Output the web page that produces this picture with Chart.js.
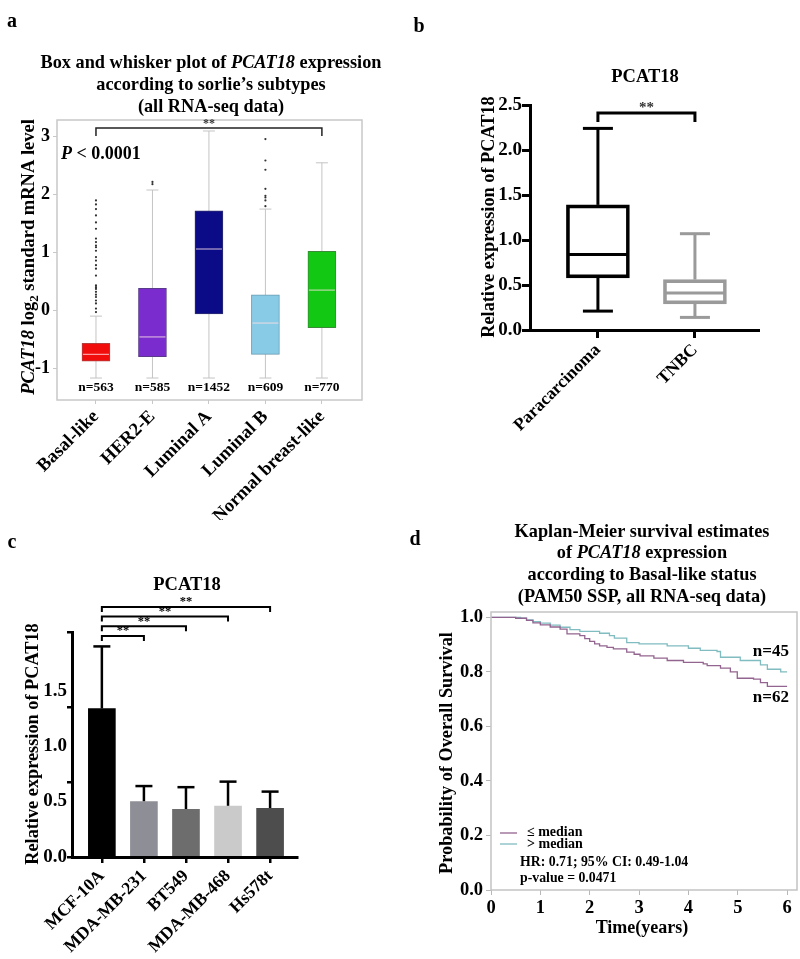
<!DOCTYPE html>
<html>
<head>
<meta charset="utf-8">
<script src="https://cdn.jsdelivr.net/npm/chart.js@4.4.1/dist/chart.umd.min.js"></script>
<style>
  html, body { margin: 0; padding: 0; background: #fff; }
  #fig { position: relative; width: 800px; height: 959px; }
  #fig canvas { position: absolute; }
</style>
</head>
<body>
<div id="fig">
  <canvas id="ca" width="400" height="520" style="left:0;top:0"></canvas>
  <canvas id="cb" width="400" height="520" style="left:400px;top:0"></canvas>
  <canvas id="cc" width="400" height="439" style="left:0;top:520px"></canvas>
  <canvas id="cd" width="400" height="439" style="left:400px;top:520px"></canvas>
</div>
<script>
// ---- panel a: sorlie subtypes (box and whisker) ----
const subtypes = ['Basal-like', 'HER2-E', 'Luminal A', 'Luminal B', 'Normal breast-like'];
const subtypeN = [563, 585, 1452, 609, 770];
const subtypeLow = [-1.17, -1.17, -1.17, -1.17, -1.17];
const subtypeQ1 = [-0.88, -0.80, -0.06, -0.76, -0.30];
const subtypeMed = [-0.76, -0.46, 1.06, -0.22, 0.35];
const subtypeQ3 = [-0.57, 0.38, 1.72, 0.27, 1.02];
const subtypeHigh = [-0.10, 2.08, 3.10, 1.75, 2.55];
const subtypeOutliers = [
  [1.90, 1.83, 1.75, 1.64, 1.52, 1.41, 1.24, 1.18, 1.12, 1.09, 1.03, 0.92, 0.86, 0.78, 0.72,
   0.60, 0.43, 0.40, 0.37, 0.32, 0.27, 0.23, 0.17, 0.12, 0.03, -0.03],
  [2.22, 2.18],
  [],
  [2.96, 2.59, 2.43, 2.10, 1.98, 1.95, 1.90, 1.80],
  []
];
const subtypeColors = ['#f20d0d', '#7a2ccf', '#0b0b88', '#88cbe6', '#12c812'];
const subtypeEdges = ['#b04040', '#5a3a8a', '#303070', '#6a9ab0', '#3a8a3a'];

// ---- panel b: paracarcinoma vs TNBC ----
const groupsB = ['Paracarcinoma', 'TNBC'];
const groupMin = [0.21, 0.14];
const groupQ1 = [0.58, 0.29];
const groupMed = [0.84, 0.41];
const groupQ3 = [1.39, 0.56];
const groupMax = [2.24, 1.07];
const groupColors = ['#000000', '#9a9a9a'];

// ---- panel c: cell lines ----
const cellLines = ['MCF-10A', 'MDA-MB-231', 'BT549', 'MDA-MB-468', 'Hs578t'];
const cellMean = [1.34, 0.50, 0.43, 0.46, 0.44];
const cellSD = [0.56, 0.14, 0.20, 0.22, 0.15];
const cellColors = ['#000000', '#8e8e96', '#6d6d6d', '#cacaca', '#4d4d4d'];
const cTickLabels = [0, 0.5, 1.0, 1.5];
const cTickMarks = [0, 0.675, 1.35, 2.03];

// ---- panel d: Kaplan-Meier ----
const kmLowTime = [0, 0.5, 0.72, 0.85, 1.0, 1.2, 1.4, 1.54, 1.8, 1.9, 2.0, 2.1, 2.2, 2.35, 2.48, 2.75, 2.9, 3.02,
  3.3, 3.57, 3.9, 4.3, 4.38, 4.65, 4.85, 4.99, 5.32, 5.46, 5.6, 6.0];
const kmLowSurv = [1, 0.997, 0.989, 0.98, 0.973, 0.965, 0.957, 0.94, 0.933, 0.922, 0.912, 0.903, 0.896, 0.89, 0.885,
  0.873, 0.865, 0.859, 0.851, 0.842, 0.835, 0.83, 0.823, 0.814, 0.80, 0.777, 0.774, 0.761, 0.747, 0.747];
const kmHighTime = [0, 0.6, 0.72, 0.85, 1.0, 1.2, 1.4, 1.6, 1.8, 2.2, 2.4, 2.5, 2.75, 3.0, 3.57, 4.0, 4.24, 4.58,
  4.65, 5.05, 5.46, 5.6, 5.87, 6.0];
const kmHighSurv = [1, 0.997, 0.991, 0.985, 0.979, 0.972, 0.964, 0.955, 0.949, 0.942, 0.933, 0.924, 0.908, 0.903,
  0.896, 0.887, 0.879, 0.875, 0.854, 0.842, 0.826, 0.81, 0.80, 0.80];

const SERIF = '"Liberation Serif", "Times New Roman", serif';
Chart.defaults.font.family = SERIF;
Chart.defaults.font.weight = 'bold';
Chart.defaults.color = '#000';

const common = {
  responsive: false,
  animation: false,
  events: [],
  plugins: { legend: { display: false }, tooltip: { enabled: false } }
};

// fix the chart area to a known rectangle inside the canvas
function pinned(W, H, area) {
  return {
    padding: { left: 0, top: area.top, right: W - area.right, bottom: 0 },
    yFit: s => { s.width = area.left; },
    xFit: s => { s.height = H - area.bottom; }
  };
}
function fixedTicks(values) {
  return s => { s.ticks = values.map(v => ({ value: v })); };
}

function font(size, italic) {
  return (italic ? 'italic ' : '') + 'bold ' + size + 'px ' + SERIF;
}
// parts: [[text, flags]] flags: 'i' italic, 's' subscript
function rich(ctx, parts, x, y, size, align) {
  const widths = parts.map(([t, f = '']) => {
    ctx.font = font(f.includes('s') ? size * 0.7 : size, f.includes('i'));
    return ctx.measureText(t).width;
  });
  const total = widths.reduce((a, b) => a + b, 0);
  let cx = align === 'center' ? x - total / 2 : align === 'right' ? x - total : x;
  ctx.textAlign = 'left';
  ctx.textBaseline = 'middle';
  parts.forEach(([t, f = ''], i) => {
    const sub = f.includes('s');
    ctx.font = font(sub ? size * 0.7 : size, f.includes('i'));
    ctx.fillText(t, cx, y + (sub ? size * 0.3 : 0));
    cx += widths[i];
  });
}
function txt(ctx, s, x, y, size, align = 'center', color = '#000') {
  ctx.fillStyle = color;
  rich(ctx, [[s]], x, y, size, align);
}
function vtxt(ctx, parts, x, y, size) {
  ctx.save();
  ctx.translate(x, y);
  ctx.rotate(-Math.PI / 2);
  ctx.fillStyle = '#000';
  rich(ctx, parts, 0, 0, size, 'center');
  ctx.restore();
}
function line(ctx, x1, y1, x2, y2) {
  ctx.beginPath(); ctx.moveTo(x1, y1); ctx.lineTo(x2, y2); ctx.stroke();
}
function bracket(ctx, x1, x2, y, drop) {
  ctx.beginPath();
  ctx.moveTo(x1, y + drop); ctx.lineTo(x1, y); ctx.lineTo(x2, y); ctx.lineTo(x2, y + drop);
  ctx.stroke();
}

// ================= panel a =================
const panelA = {
  id: 'panelA',
  beforeDatasetsDraw(chart) {
    const { ctx, scales: { x, y } } = chart;
    ctx.save();
    ctx.strokeStyle = '#c4c4c4';
    ctx.lineWidth = 1;
    subtypes.forEach((_, i) => {
      const px = x.getPixelForValue(i);
      const lo = y.getPixelForValue(subtypeLow[i]);
      const hi = y.getPixelForValue(subtypeHigh[i]);
      line(ctx, px, lo, px, hi);
      line(ctx, px - 6, lo, px + 6, lo);
      line(ctx, px - 6, hi, px + 6, hi);
    });
    ctx.restore();
  },
  afterDatasetsDraw(chart) {
    const { ctx, scales: { x, y } } = chart;
    ctx.save();
    ctx.strokeStyle = 'rgba(255,225,230,0.85)';
    ctx.lineWidth = 1;
    subtypes.forEach((_, i) => {
      const px = x.getPixelForValue(i);
      const py = y.getPixelForValue(subtypeMed[i]);
      line(ctx, px - 13, py, px + 13, py);
    });
    ctx.restore();
  },
  afterDraw(chart) {
    const { ctx, chartArea: a, scales: { x } } = chart;
    ctx.save();
    ctx.strokeStyle = '#c8c8c8';
    ctx.lineWidth = 1.5;
    ctx.strokeRect(a.left, a.top, a.right - a.left, a.bottom - a.top);

    ctx.strokeStyle = '#222';
    ctx.lineWidth = 1.5;
    bracket(ctx, x.getPixelForValue(0), x.getPixelForValue(4), a.top + 8, 8);
    txt(ctx, '**', x.getPixelForValue(2), a.top + 4, 12, 'center', '#333');

    subtypeN.forEach((n, i) => txt(ctx, 'n=' + n, x.getPixelForValue(i), a.bottom - 12, 13.5));

    ctx.fillStyle = '#000';
    rich(ctx, [['P', 'i'], [' < 0.0001']], a.left + 4, a.top + 34, 18, 'left');

    rich(ctx, [['Box and whisker plot of '], ['PCAT18', 'i'], [' expression']], 211, 63, 18.3, 'center');
    rich(ctx, [['according to sorlie\u2019s subtypes']], 211, 85, 18.3, 'center');
    rich(ctx, [['(all RNA-seq data)']], 211, 107, 18.3, 'center');

    vtxt(ctx, [['PCAT18', 'i'], [' log'], ['2', 's'], [' standard mRNA level']], 29, 257, 18.5);
    txt(ctx, 'a', 12, 22, 20);
    ctx.restore();
  }
};

const pa = pinned(400, 520, { left: 57, top: 120, right: 362, bottom: 400 });
new Chart(document.getElementById('ca'), {
  type: 'bar',
  data: {
    datasets: [
      {
        data: subtypes.map((_, i) => ({ x: i, y: [subtypeQ1[i], subtypeQ3[i]] })),
        backgroundColor: subtypeColors,
        borderColor: subtypeEdges,
        borderWidth: 1,
        borderSkipped: false,
        barThickness: 28
      },
      {
        type: 'scatter',
        data: subtypeOutliers.flatMap((arr, i) => arr.map(v => ({ x: i, y: v }))),
        pointRadius: 1.1,
        pointBackgroundColor: '#333',
        pointBorderWidth: 0
      }
    ]
  },
  options: {
    ...common,
    layout: { padding: pa.padding },
    scales: {
      x: {
        type: 'linear', min: -0.69, max: 4.71, offset: false,
        afterFit: pa.xFit, afterBuildTicks: fixedTicks([0, 1, 2, 3, 4]),
        grid: { offset: false, drawOnChartArea: false, tickLength: 4, color: '#c8c8c8' },
        border: { display: false },
        ticks: { callback: v => subtypes[v], autoSkip: false, minRotation: 45, maxRotation: 45, padding: 2, font: { size: 18.5 } }
      },
      y: {
        min: -1.55, max: 3.29,
        afterFit: pa.yFit, afterBuildTicks: fixedTicks([-1, 0, 1, 2, 3]),
        grid: { drawOnChartArea: false, tickLength: 4, color: '#c8c8c8' },
        border: { display: false },
        ticks: { padding: 3, font: { size: 18 } }
      }
    }
  },
  plugins: [panelA]
});

// ================= panel b =================
const panelB = {
  id: 'panelB',
  afterDatasetsDraw(chart) {
    const { ctx, scales: { x, y } } = chart;
    ctx.save();
    ctx.lineWidth = 3;
    groupsB.forEach((_, i) => {
      const px = x.getPixelForValue(i);
      ctx.strokeStyle = groupColors[i];
      line(ctx, px, y.getPixelForValue(groupQ3[i]), px, y.getPixelForValue(groupMax[i]));
      line(ctx, px, y.getPixelForValue(groupQ1[i]), px, y.getPixelForValue(groupMin[i]));
      line(ctx, px - 15, y.getPixelForValue(groupMax[i]), px + 15, y.getPixelForValue(groupMax[i]));
      line(ctx, px - 15, y.getPixelForValue(groupMin[i]), px + 15, y.getPixelForValue(groupMin[i]));
      line(ctx, px - 30, y.getPixelForValue(groupMed[i]), px + 30, y.getPixelForValue(groupMed[i]));
    });
    ctx.restore();
  },
  afterDraw(chart) {
    const { ctx, chartArea: a, scales: { x } } = chart;
    ctx.save();
    ctx.strokeStyle = '#000';
    ctx.lineWidth = 3;
    bracket(ctx, x.getPixelForValue(0), x.getPixelForValue(1), a.top + 8, 9);
    txt(ctx, '**', (x.getPixelForValue(0) + x.getPixelForValue(1)) / 2, a.top + 3, 15, 'center', '#333');
    txt(ctx, 'PCAT18', 245, 77, 18.5);
    vtxt(ctx, [['Relative expression of PCAT18']], 89, 217, 18.3);
    txt(ctx, 'b', 19, 27, 20);
    ctx.restore();
  }
};

const pb = pinned(400, 520, { left: 130, top: 105, right: 358, bottom: 330 });
new Chart(document.getElementById('cb'), {
  type: 'bar',
  data: {
    datasets: [{
      data: groupsB.map((_, i) => ({ x: i, y: [groupQ1[i], groupQ3[i]] })),
      backgroundColor: 'rgba(255,255,255,0)',
      borderColor: groupColors,
      borderWidth: 3,
      borderSkipped: false,
      barThickness: 63
    }]
  },
  options: {
    ...common,
    layout: { padding: pb.padding },
    scales: {
      x: {
        type: 'linear', min: -0.70, max: 1.65, offset: false,
        afterFit: pb.xFit, afterBuildTicks: fixedTicks([0, 1]),
        grid: { offset: false, drawOnChartArea: false, tickLength: 8, lineWidth: 3, color: '#000' },
        border: { color: '#000', width: 3 },
        ticks: { callback: v => groupsB[v], autoSkip: false, minRotation: 45, maxRotation: 45, padding: 2, font: { size: 17.5 } }
      },
      y: {
        min: 0, max: 2.5,
        afterFit: pb.yFit, afterBuildTicks: fixedTicks([0, 0.5, 1, 1.5, 2, 2.5]),
        grid: { drawOnChartArea: false, tickLength: 8, lineWidth: 3, color: '#000' },
        border: { color: '#000', width: 3 },
        ticks: { callback: v => v.toFixed(1), padding: 0, font: { size: 19 } }
      }
    }
  },
  plugins: [panelB]
});

// ================= panel c =================
const panelC = {
  id: 'panelC',
  beforeDatasetsDraw(chart) {
    const { ctx, scales: { x, y } } = chart;
    ctx.save();
    ctx.strokeStyle = '#000';
    ctx.lineWidth = 2.5;
    cellLines.forEach((_, i) => {
      const px = x.getPixelForValue(i);
      const top = y.getPixelForValue(cellMean[i] + cellSD[i]);
      line(ctx, px, y.getPixelForValue(cellMean[i]), px, top);
      line(ctx, px - 8.5, top, px + 8.5, top);
    });
    ctx.restore();
  },
  afterDraw(chart) {
    const { ctx, chartArea: a, scales: { x } } = chart;
    ctx.save();
    ctx.strokeStyle = '#000';
    ctx.lineWidth = 2;
    const x0 = x.getPixelForValue(0);
    [1, 2, 3, 4].forEach((j, k) => {
      const by = a.top + 4 - k * 9.7;
      const x1 = x.getPixelForValue(j);
      bracket(ctx, x0, x1, by, 5);
      txt(ctx, '**', (x0 + x1) / 2, by - 5, 12.5);
    });
    txt(ctx, 'PCAT18', 187, 65, 18.5);
    vtxt(ctx, [['Relative expression of PCAT18']], 33, 224, 18.3);
    txt(ctx, 'c', 12, 23, 20);
    ctx.restore();
  }
};

const pc = pinned(400, 439, { left: 72, top: 112, right: 297, bottom: 337 });
new Chart(document.getElementById('cc'), {
  type: 'bar',
  data: {
    datasets: [{
      data: cellLines.map((_, i) => ({ x: i, y: cellMean[i] })),
      backgroundColor: cellColors,
      borderWidth: 0,
      barThickness: 27
    }]
  },
  options: {
    ...common,
    layout: { padding: pc.padding },
    scales: {
      x: {
        type: 'linear', min: -0.71, max: 4.64, offset: false,
        afterFit: pc.xFit, afterBuildTicks: fixedTicks([0, 1, 2, 3, 4]),
        grid: { offset: false, drawOnChartArea: false, tickLength: 6, lineWidth: 2.5, color: '#000' },
        border: { color: '#000', width: 3 },
        ticks: { callback: v => cellLines[v], autoSkip: false, minRotation: 45, maxRotation: 45, padding: 3, font: { size: 17.5 } }
      },
      y: {
        min: 0, max: 2.03,
        afterFit: pc.yFit,
        afterBuildTicks: fixedTicks([...new Set([...cTickLabels, ...cTickMarks])].sort((p, q) => p - q)),
        grid: {
          drawOnChartArea: false, tickLength: 5, lineWidth: 2.5,
          tickColor: c => cTickMarks.includes(c.tick.value) ? '#000' : 'rgba(0,0,0,0)'
        },
        border: { color: '#000', width: 3 },
        ticks: { callback: v => cTickLabels.includes(v) ? v.toFixed(1) : '', padding: 0, font: { size: 19 } }
      }
    }
  },
  plugins: [panelC]
});

// ================= panel d =================
const panelD = {
  id: 'panelD',
  afterDraw(chart) {
    const { ctx, chartArea: a } = chart;
    ctx.save();
    ctx.strokeStyle = '#c3c3c3';
    ctx.lineWidth = 1.5;
    ctx.strokeRect(a.left, a.top, a.right - a.left, a.bottom - a.top);

    // legend
    ctx.lineWidth = 1.3;
    ctx.strokeStyle = '#93648f';
    line(ctx, 100, 313, 117, 313);
    ctx.strokeStyle = '#80bcc0';
    line(ctx, 100, 324, 117, 324);
    txt(ctx, '\u2264 median', 127, 312, 14, 'left');
    txt(ctx, '> median', 127, 324, 14, 'left');
    txt(ctx, 'HR: 0.71; 95% CI: 0.49-1.04', 120, 342, 13.8, 'left');
    txt(ctx, 'p-value = 0.0471', 120, 358, 13.8, 'left');

    txt(ctx, 'n=45', 389, 132, 17, 'right');
    txt(ctx, 'n=62', 389, 178, 17, 'right');

    ctx.fillStyle = '#000';
    rich(ctx, [['Kaplan-Meier survival estimates']], 242, 12, 18.3, 'center');
    rich(ctx, [['of '], ['PCAT18', 'i'], [' expression']], 242, 33, 18.3, 'center');
    rich(ctx, [['according to Basal-like status']], 242, 55, 18.3, 'center');
    rich(ctx, [['(PAM50 SSP, all RNA-seq data)']], 242, 77, 18.3, 'center');

    vtxt(ctx, [['Probability of Overall Survival']], 47, 233, 18.3);
    txt(ctx, 'Time(years)', 242, 408, 18);
    txt(ctx, 'd', 15, 20, 20);
    ctx.restore();
  }
};

const pd = pinned(400, 439, { left: 91, top: 92, right: 397, bottom: 370 });
new Chart(document.getElementById('cd'), {
  type: 'line',
  data: {
    datasets: [
      {
        label: '\u2264 median',
        data: kmLowTime.map((t, i) => ({ x: t, y: kmLowSurv[i] })),
        borderColor: '#93648f', borderWidth: 1.3, pointRadius: 0, stepped: true, fill: false
      },
      {
        label: '> median',
        data: kmHighTime.map((t, i) => ({ x: t, y: kmHighSurv[i] })),
        borderColor: '#80bcc0', borderWidth: 1.3, pointRadius: 0, stepped: true, fill: false
      }
    ]
  },
  options: {
    ...common,
    layout: { padding: pd.padding },
    scales: {
      x: {
        type: 'linear', min: 0, max: 6.2,
        afterFit: pd.xFit, afterBuildTicks: fixedTicks([0, 1, 2, 3, 4, 5, 6]),
        grid: { drawOnChartArea: false, tickLength: 5, color: '#b8b8b8' },
        border: { display: false },
        ticks: { padding: 2, font: { size: 18.5 } }
      },
      y: {
        min: 0, max: 1.02,
        afterFit: pd.yFit, afterBuildTicks: fixedTicks([0, 0.2, 0.4, 0.6, 0.8, 1.0]),
        grid: { drawOnChartArea: false, tickLength: 5, color: '#b8b8b8' },
        border: { display: false },
        ticks: { callback: v => v.toFixed(1), padding: 3, font: { size: 18.5 } }
      }
    }
  },
  plugins: [panelD]
});
</script>
</body>
</html>
